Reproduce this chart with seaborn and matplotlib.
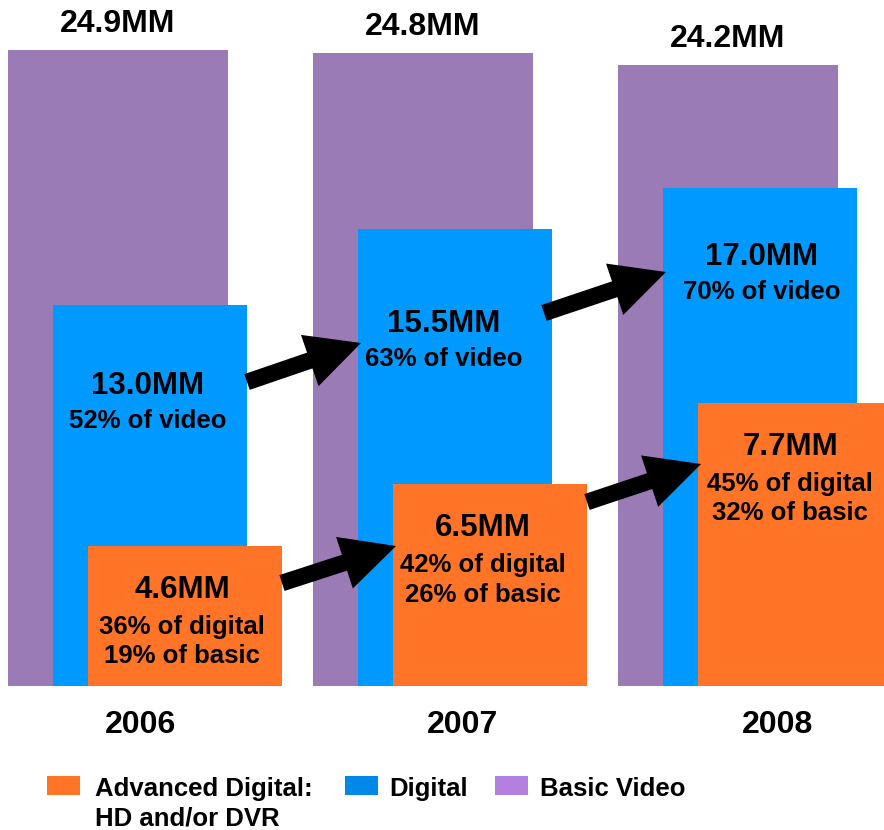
import pandas as pd
import seaborn as sns
import matplotlib.pyplot as plt
from matplotlib.patches import Rectangle

# values shown in the labels
years = ["2006", "2007", "2008"]
basic_mm = [24.9, 24.8, 24.2]
digital_mm = [13.0, 15.5, 17.0]
advanced_mm = [4.6, 6.5, 7.7]
digital_pct_video = [52, 63, 70]
advanced_pct_digital = [36, 42, 45]
advanced_pct_basic = [19, 26, 32]

# bar heights as drawn in the picture (the slide is not to scale)
basic_drawn = [24.9, 24.8, 24.3]
digital_drawn = [14.9, 17.9, 19.5]
advanced_drawn = [5.5, 7.9, 11.1]

legend_labels = ["Advanced Digital:\nHD and/or DVR", "Digital", "Basic Video"]

# colours
PURPLE = "#9b7bb6"
BLUE = "#0099ff"
ORANGE = "#ff7426"

# layout (pixel units, figure is 884x830)
W, H = 884, 830
BASE = 686          # baseline, px from top
S = 25.54           # px per drawn unit
GROUP_X = [118, 423, 728]
SPACING = 305
DIG_OFF, ADV_OFF = 32, 67
BASIC_W, BAR_W = 220, 194


def py(v):
    # pixel row from top -> data y
    return (BASE - v) / S


sns.set_style("white")
plt.rcParams["font.family"] = ["Liberation Sans", "DejaVu Sans"]
plt.rcParams["font.weight"] = "bold"
plt.rcParams["text.color"] = "black"

fig = plt.figure(figsize=(W / 100, H / 100), dpi=100)
ax = fig.add_axes([0, 0, 1, 1])

df = pd.DataFrame({"year": years, "basic": basic_drawn,
                   "digital": digital_drawn, "advanced": advanced_drawn})
df["x"] = GROUP_X

# three overlapping bar layers
for col, off, w, c in [("basic", 0, BASIC_W, PURPLE),
                       ("digital", DIG_OFF, BAR_W, BLUE),
                       ("advanced", ADV_OFF, BAR_W, ORANGE)]:
    sns.barplot(x=df["x"] + off, y=df[col], native_scale=True, width=w / SPACING,
                color=c, saturation=1, errorbar=None, linewidth=0, ax=ax)

ax.set_xlim(0, W)
ax.set_ylim(py(H), py(0))
ax.axis("off")

# basic labels above bars
for i, v in enumerate(basic_mm):
    top = BASE - basic_drawn[i] * S
    ax.text(GROUP_X[i], py(top - 26), f"{v:.1f}MM", ha="center", va="center",
            fontsize=23, fontweight="bold")

# digital labels
dig_label_x = [148, 444, 762]
dig_drop = [81, 95, 69]
for i, v in enumerate(digital_mm):
    top = BASE - digital_drawn[i] * S
    ax.text(dig_label_x[i], py(top + dig_drop[i]), f"{v:.1f}MM", ha="center",
            va="center", fontsize=22.5, fontweight="bold", zorder=5)
    ax.text(dig_label_x[i], py(top + dig_drop[i] + 35), f"{digital_pct_video[i]}% of video",
            ha="center", va="center", fontsize=18.5, fontweight="bold", zorder=5)

# advanced labels
adv_label_x = [182, 483, 790]
for i, v in enumerate(advanced_mm):
    top = BASE - advanced_drawn[i] * S
    ax.text(adv_label_x[i], py(top + 44), f"{v:.1f}MM", ha="center",
            va="center", fontsize=22.5, fontweight="bold", zorder=5)
    ax.text(adv_label_x[i], py(top + 44 + 52),
            f"{advanced_pct_digital[i]}% of digital\n{advanced_pct_basic[i]}% of basic",
            ha="center", va="center", fontsize=18.5, fontweight="bold",
            linespacing=1.3, zorder=5)

# arrows between years: (x offset of source bar, tail row, tip row)
arrow_specs = [
    (DIG_OFF, 382, 343),
    (DIG_OFF, 313, 272),
    (ADV_OFF, 583, 546),
    (ADV_OFF, 502, 464),
]
for i, (off, ty, hy) in enumerate(arrow_specs):
    src = i % 2
    tail_x = GROUP_X[src] + off + BAR_W / 2 - (8 if i == 1 else 0)
    tip_x = GROUP_X[src + 1] + off - BAR_W / 2 + 3
    ax.annotate("", xy=(tip_x, py(hy)), xytext=(tail_x, py(ty)),
                arrowprops=dict(arrowstyle="simple,head_length=3.9,head_width=3.9,tail_width=1.2",
                                mutation_scale=10, fc="black", ec="black", lw=0,
                                shrinkA=0, shrinkB=0), zorder=6)

# year labels
year_x = [140, 462, 778]
for x, yr in zip(year_x, years):
    ax.text(x, py(725), yr, ha="center", va="center", fontsize=23, fontweight="bold")

# legend drawn by hand
leg_colors = [ORANGE, "#0088e8", "#b380e0"]
leg_box_x = [47, 345, 495]
leg_text_x = [95, 389, 540]
for c, bx, tx, lab in zip(leg_colors, leg_box_x, leg_text_x, legend_labels):
    fig.add_artist(Rectangle((bx / W, 1 - 795 / H), 33 / W, 19 / H,
                             transform=fig.transFigure, color=c, lw=0))
    fig.text(tx / W, 1 - 777 / H, lab, ha="left", va="top", fontsize=18.5,
             fontweight="bold", linespacing=1.3)

fig.savefig("out.png", dpi=100)
